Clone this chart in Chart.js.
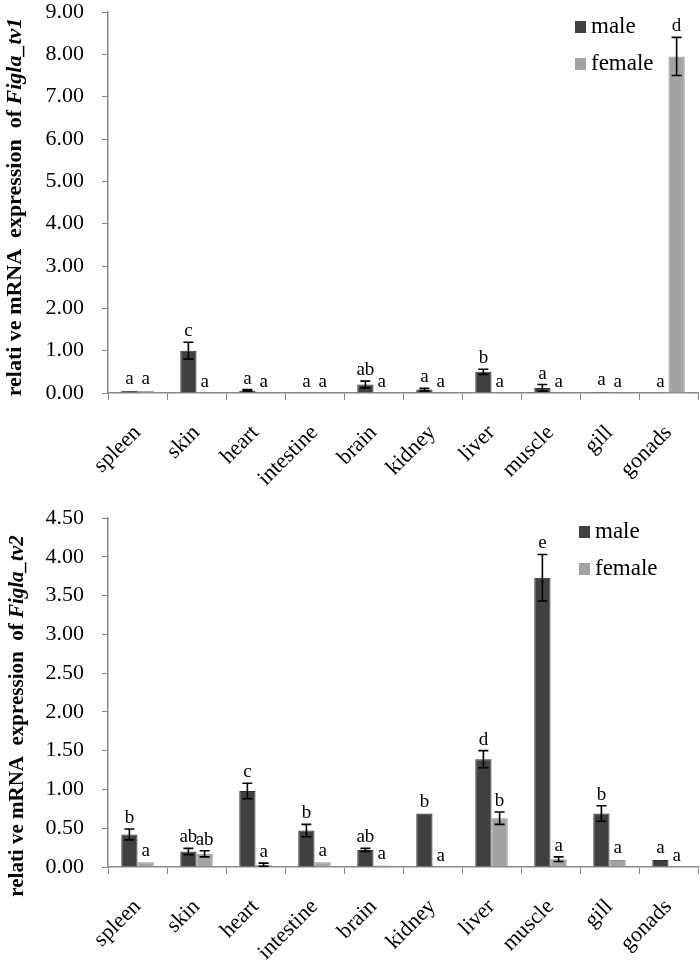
<!DOCTYPE html>
<html>
<head>
<meta charset="utf-8">
<script src="https://cdn.jsdelivr.net/npm/chart.js@4.4.1/dist/chart.umd.min.js"></script>
<style>
  body { margin: 0; background: #fff; }
  .box { position: absolute; left: 0; width: 700px; }
  #top { top: 0; height: 500px; }
  #bottom { top: 480px; height: 481px; }
</style>
</head>
<body>
<div class="box" id="top"><canvas id="tv1"></canvas></div>
<div class="box" id="bottom"><canvas id="tv2"></canvas></div>
<script>
const tissues = ['spleen', 'skin', 'heart', 'intestine', 'brain', 'kidney', 'liver', 'muscle', 'gill', 'gonads'];

// Figla_tv1
const tv1Male      = [0.05, 1.00, 0.06, 0.01, 0.20, 0.08, 0.50, 0.12, 0.03, 0.01];
const tv1MaleErr   = [0.01, 0.20, 0.02, 0.00, 0.08, 0.03, 0.06, 0.08, 0.01, 0.00];
const tv1Female    = [0.05, 0.01, 0.01, 0.01, 0.01, 0.01, 0.01, 0.01, 0.01, 7.95];
const tv1FemaleErr = [0.01, 0.00, 0.00, 0.00, 0.00, 0.00, 0.00, 0.00, 0.00, 0.45];
const tv1MaleSig   = ['a', 'c', 'a', 'a', 'ab', 'a', 'b', 'a', 'a', 'a'];
const tv1FemaleSig = ['a', 'a', 'a', 'a', 'a', 'a', 'a', 'a', 'a', 'd'];

// Figla_tv2
const tv2Male      = [0.42, 0.20, 0.98, 0.47, 0.22, 0.69, 1.39, 3.73, 0.69, 0.09];
const tv2MaleErr   = [0.07, 0.04, 0.10, 0.08, 0.02, 0.01, 0.11, 0.30, 0.10, 0.01];
const tv2Female    = [0.06, 0.17, 0.03, 0.06, 0.02, 0.00, 0.63, 0.10, 0.09, 0.00];
const tv2FemaleErr = [0.01, 0.04, 0.02, 0.01, 0.01, 0.00, 0.08, 0.03, 0.01, 0.00];
const tv2MaleSig   = ['b', 'ab', 'c', 'b', 'ab', 'b', 'd', 'e', 'b', 'a'];
const tv2FemaleSig = ['a', 'ab', 'a', 'a', 'a', 'a', 'b', 'a', 'a', 'a'];

const MALE = '#404040';
const FEMALE = '#a3a3a3';
const SERIF = '"Liberation Serif", "Times New Roman", serif';

// error bars + significance letters
const errorPlugin = {
  id: 'errs',
  afterDatasetsDraw(chart, args, opts) {
    const ctx = chart.ctx;
    const y = chart.scales.y;
    chart.data.datasets.forEach((ds, di) => {
      const meta = chart.getDatasetMeta(di);
      meta.data.forEach((bar, i) => {
        const v = ds.data[i], e = ds.err[i];
        const yTop = y.getPixelForValue(v + e);
        const yBot = y.getPixelForValue(Math.max(v - e, 0));
        ctx.save();
        ctx.strokeStyle = '#000';
        ctx.lineWidth = 1.6;
        if (e > 0.015) {
          ctx.beginPath();
          ctx.moveTo(bar.x, yTop); ctx.lineTo(bar.x, yBot);
          ctx.moveTo(bar.x - 5, yTop); ctx.lineTo(bar.x + 5, yTop);
          ctx.moveTo(bar.x - 5, yBot); ctx.lineTo(bar.x + 5, yBot);
          ctx.stroke();
        }
        ctx.fillStyle = '#000';
        ctx.font = '19px ' + SERIF;
        ctx.textAlign = 'center';
        ctx.textBaseline = 'alphabetic';
        ctx.fillText(ds.sig[i], bar.x, Math.min(yTop, y.getPixelForValue(0)) - 6);
        ctx.restore();
      });
    });
  }
};

// y title (mixed bold / bold italic) and legend
const decorPlugin = {
  id: 'decor',
  afterDraw(chart, args, opts) {
    const ctx = chart.ctx;
    const f = opts.titleSize + 'px ' + SERIF;
    ctx.save();
    ctx.translate(opts.titleX, opts.titleY);
    ctx.rotate(-Math.PI / 2);
    ctx.fillStyle = '#000';
    ctx.textBaseline = 'middle';
    const a = 'relati ve mRNA  expression  of ';
    const b = opts.gene;
    ctx.font = 'bold ' + f;
    const wa = ctx.measureText(a).width;
    ctx.font = 'italic bold ' + f;
    const wb = ctx.measureText(b).width;
    const x0 = -(wa + wb) / 2;
    ctx.textAlign = 'left';
    ctx.font = 'bold ' + f;
    ctx.fillText(a, x0, 0);
    ctx.font = 'italic bold ' + f;
    ctx.fillText(b, x0 + wa, 0);
    ctx.restore();

    ctx.save();
    ctx.font = '23px ' + SERIF;
    ctx.textBaseline = 'middle';
    chart.data.datasets.forEach((ds, i) => {
      const ly = opts.legendY + i * 37;
      ctx.fillStyle = ds.backgroundColor;
      ctx.fillRect(opts.legendX, ly - 6, 11, 12);
      ctx.fillStyle = '#000';
      ctx.fillText(ds.label, opts.legendX + 16, ly);
    });
    ctx.restore();
  }
};

function makeChart(id, male, maleErr, maleSig, female, femaleErr, femaleSig, yMax, step, pad, axisH, decor) {
  return new Chart(document.getElementById(id), {
    type: 'bar',
    data: {
      labels: tissues,
      datasets: [
        { label: 'male', data: male, err: maleErr, sig: maleSig, backgroundColor: MALE, borderColor: '#2e2e2e', borderWidth: 1 },
        { label: 'female', data: female, err: femaleErr, sig: femaleSig, backgroundColor: FEMALE, borderColor: '#8e8e8e', borderWidth: 1 }
      ]
    },
    options: {
      responsive: true,
      maintainAspectRatio: false,
      animation: false,
      layout: { padding: { top: pad, right: 2, left: 0, bottom: 0 } },
      datasets: { bar: { categoryPercentage: 0.55, barPercentage: 1 } },
      scales: {
        x: {
          grid: { drawOnChartArea: false, color: '#888', tickLength: 7, offset: true },
          border: { color: '#888', width: 1.5 },
          ticks: { color: '#000', font: { family: SERIF, size: 22 }, minRotation: 45, maxRotation: 45, padding: 20 },
          afterFit: s => { s.height = axisH; s.paddingLeft = 0; s.paddingRight = 0; }
        },
        y: {
          min: 0, max: yMax,
          grid: { drawOnChartArea: false, color: '#888', tickLength: 6 },
          border: { color: '#888', width: 1.5 },
          ticks: { stepSize: step, color: '#000', font: { family: SERIF, size: 22 }, padding: 18,
                   callback: v => v.toFixed(2) },
          afterFit: s => { s.width = 108; s.paddingTop = 0; s.paddingBottom = 0; }
        }
      },
      plugins: {
        legend: { display: false },
        tooltip: { enabled: false },
        decor: decor
      }
    },
    plugins: [errorPlugin, decorPlugin]
  });
}

makeChart('tv1', tv1Male, tv1MaleErr, tv1MaleSig, tv1Female, tv1FemaleErr, tv1FemaleSig, 9, 1, 12, 107,
  { gene: 'Figla_tv1', titleX: 15, titleY: 207, titleSize: 22, legendX: 575, legendY: 27 });
makeChart('tv2', tv2Male, tv2MaleErr, tv2MaleSig, tv2Female, tv2FemaleErr, tv2FemaleSig, 4.5, 0.5, 38, 94,
  { gene: 'Figla_tv2', titleX: 18, titleY: 236, titleSize: 21, legendX: 579, legendY: 52 });
</script>
</body>
</html>
